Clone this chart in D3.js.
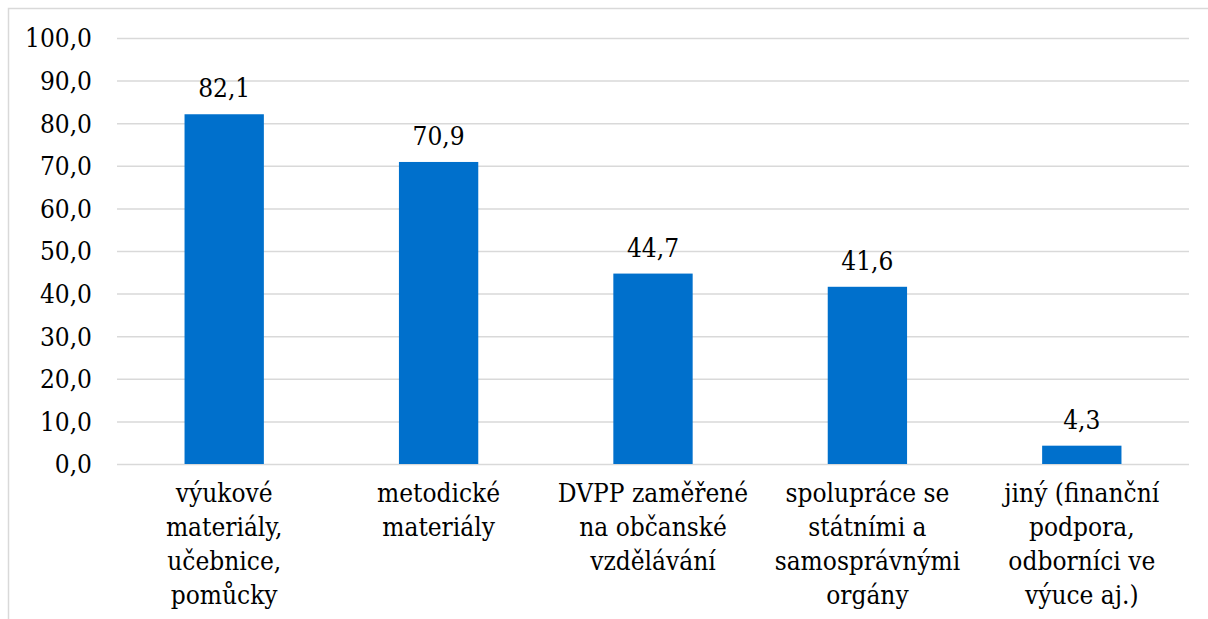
<!DOCTYPE html>
<html>
<head>
<meta charset="utf-8">
<script src="https://cdn.jsdelivr.net/npm/d3@7"></script>
<style>
  body { margin: 0; background: #fff; }
  svg { display: block; }
  .grid line { stroke: #d9d9d9; stroke-width: 1.5; }
  .grid .domain { display: none; }
</style>
</head>
<body>
<svg id="chart" width="1208" height="619"></svg>
<script>
  // data
  var categories = [
    ["výukové", "materiály,", "učebnice,", "pomůcky"],
    ["metodické", "materiály"],
    ["DVPP zaměřené", "na občanské", "vzdělávání"],
    ["spolupráce se", "státními a", "samosprávnými", "orgány"],
    ["jiný (finanční", "podpora,", "odborníci ve", "výuce aj.)"]
  ];
  var values = [82.1, 70.9, 44.7, 41.6, 4.3];
  var yTicks = [0, 10, 20, 30, 40, 50, 60, 70, 80, 90, 100];

  var svg = d3.select("#chart"),
      margin = {left: 117, right: 19, top: 38, bottom: 155},
      width = 1208 - margin.left - margin.right,
      height = 619 - margin.top - margin.bottom,
      font = "'DejaVu Serif Condensed', 'DejaVu Serif', serif";

  var fmt = function(v) { return d3.format(".1f")(v).replace(".", ","); };

  // outer frame (only top and left edges are visible)
  svg.append("path")
    .attr("d", "M8.5,619V8.5H1208")
    .attr("fill", "none")
    .attr("stroke", "#d9d9d9")
    .attr("stroke-width", 1.5);

  var g = svg.append("g").attr("transform", "translate(" + margin.left + "," + margin.top + ")");

  var x = d3.scaleBand()
      .domain(d3.range(values.length))
      .range([0, width])
      .paddingInner(0.63)
      .paddingOuter(0.315);

  var y = d3.scaleLinear().domain([0, 100]).range([height, 0]);

  g.append("g")
    .attr("class", "grid")
    .call(d3.axisLeft(y).tickValues(yTicks).tickSize(-width).tickFormat(""));

  g.selectAll(".ylab")
    .data(yTicks)
    .enter().append("text")
    .attr("class", "ylab")
    .attr("x", -25)
    .attr("y", function(d) { return y(d); })
    .attr("dy", "0.36em")
    .attr("text-anchor", "end")
    .style("font-family", font)
    .style("font-stretch", "condensed")
    .style("font-size", "26px")
    .attr("fill", "#000")
    .text(fmt);

  g.selectAll(".bar")
    .data(values)
    .enter().append("rect")
    .attr("class", "bar")
    .attr("x", function(d, i) { return x(i); })
    .attr("y", function(d) { return y(d); })
    .attr("width", x.bandwidth())
    .attr("height", function(d) { return height - y(d); })
    .attr("fill", "#0070cc");

  g.selectAll(".val")
    .data(values)
    .enter().append("text")
    .attr("class", "val")
    .attr("x", function(d, i) { return x(i) + x.bandwidth() / 2; })
    .attr("y", function(d) { return y(d) - 17; })
    .attr("text-anchor", "middle")
    .style("font-family", font)
    .style("font-stretch", "condensed")
    .style("font-size", "26px")
    .attr("fill", "#000")
    .text(fmt);

  var cat = g.selectAll(".cat")
    .data(categories)
    .enter().append("text")
    .attr("class", "cat")
    .attr("text-anchor", "middle")
    .style("font-family", font)
    .style("font-stretch", "condensed")
    .style("font-size", "26px")
    .attr("fill", "#000")
    .attr("transform", function(d, i) { return "translate(" + (x(i) + x.bandwidth() / 2) + "," + (height + 38) + ")"; });

  cat.selectAll("tspan")
    .data(function(d) { return d; })
    .enter().append("tspan")
    .attr("x", 0)
    .attr("y", function(d, i) { return i * 34; })
    .text(function(d) { return d; });
</script>
</body>
</html>
